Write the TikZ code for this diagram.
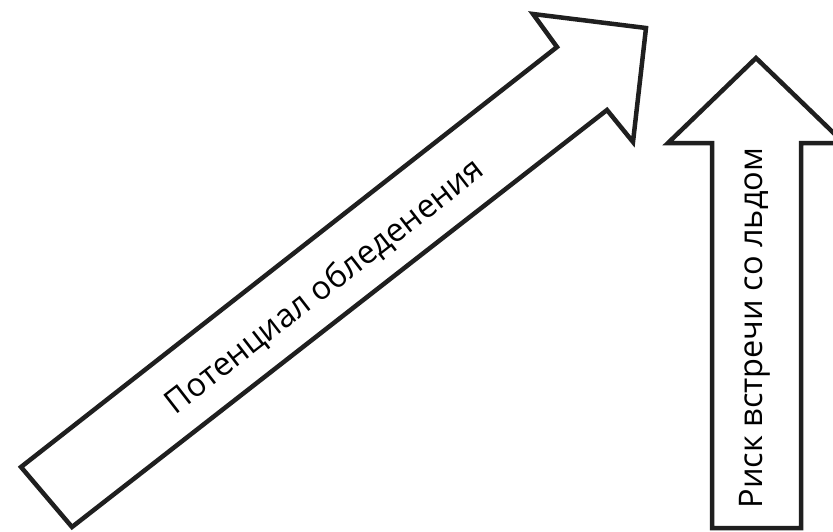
\documentclass[tikz,border=0pt]{standalone}
\usepackage{fontspec}
\setmainfont{Open Sans}
\begin{document}
\begin{tikzpicture}[x=1pt,y=-1pt,
  arrowshape/.style={draw=black!88,line width=4.5pt,line join=miter,fill=white},
  lbl/.style={font=\fontsize{32.5}{38}\selectfont,inner sep=0pt}]
\useasboundingbox (0,0) rectangle (833,531);
\draw[arrowshape] (21,467) -- (557,47) -- (533,14) -- (646,28) -- (633,142) -- (607,110) -- (72,527) -- cycle;
\draw[arrowshape] (712,528) -- (712,143) -- (668,143) -- (756,58) -- (844,143) -- (801,143) -- (801,528) -- cycle;
\node[lbl,rotate=37.8] (diag) at (325,287) {Потенциал обледенения};
\node[lbl,rotate=90] (vert) at (755,328) {Риск встречи со льдом};
\end{tikzpicture}
\end{document}
